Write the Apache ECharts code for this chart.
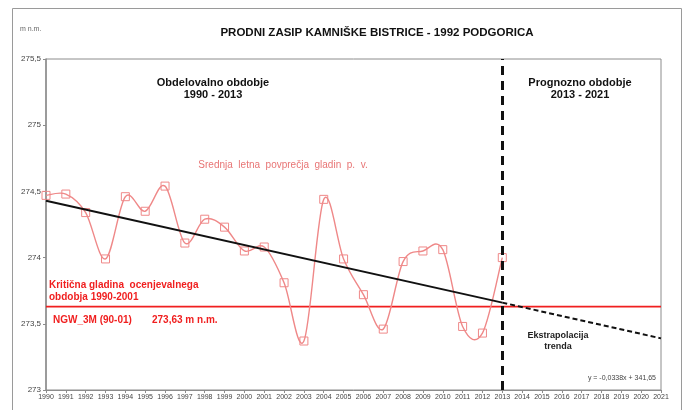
<!DOCTYPE html>
<html>
<head>
<meta charset="utf-8">
<script src="https://cdn.jsdelivr.net/npm/echarts@6/dist/echarts.min.js"></script>
<style>
html,body{margin:0;padding:0;background:#fff;}
#c{width:687px;height:410px;}
</style>
</head>
<body>
<div id="c"></div>
<script>
// ---- data ----
const years = [1990,1991,1992,1993,1994,1995,1996,1997,1998,1999,2000,2001,2002,2003,2004,2005,2006,2007,2008,2009,2010,2011,2012,2013];
const levels = [274.47,274.48,274.34,273.99,274.46,274.35,274.54,274.11,274.29,274.23,274.05,274.08,273.81,273.37,274.44,273.99,273.72,273.46,273.97,274.05,274.06,273.48,273.43,274.00];
const trendObserved = [[1990,274.43],[2013,273.66]];
const trendForecast = [[2013,273.66],[2021,273.39]];
const criticalLevel = 273.63;
const criticalSpan = [1990, 2021];
const dividerYear = 2013;
const yTicks = [273, 273.5, 274, 274.5, 275, 275.5];
const xRange = [1990, 2021];

const FONT = '"Liberation Sans", Arial, sans-serif';
const SALMON = '#ef8888';
const RED = '#f01f1f';

const chart = echarts.init(document.getElementById('c'), null, {renderer:'canvas'});
const obsData = years.map((y,i)=>[y, levels[i]]);
const critData = criticalSpan.map(x=>[x, criticalLevel]);

// Excel-style smoothed curve through the data points, positioned via the chart's own axes
function renderSmooth(params, api){
  if (params.dataIndex !== 0) return null;
  const pts = obsData.map(d => api.coord(d));
  const n = pts.length;
  let d = 'M' + pts[0][0] + ' ' + pts[0][1];
  for (let i = 0; i < n - 1; i++){
    const p0 = pts[Math.max(i-1,0)], p1 = pts[i], p2 = pts[i+1], p3 = pts[Math.min(i+2,n-1)];
    const c1x = p1[0] + (p2[0]-p0[0])/6, c1y = p1[1] + (p2[1]-p0[1])/6;
    const c2x = p2[0] - (p3[0]-p1[0])/6, c2y = p2[1] - (p3[1]-p1[1])/6;
    d += ' C' + c1x + ' ' + c1y + ' ' + c2x + ' ' + c2y + ' ' + p2[0] + ' ' + p2[1];
  }
  return {
    type:'path',
    shape:{pathData:d},
    style:{fill:'none', stroke:SALMON, lineWidth:1.4}
  };
}

chart.setOption({
  backgroundColor:'#fff',
  animation:false,
  grid:{left:46, right:26, top:59, bottom:20, show:true, borderColor:'#8c8c8c', borderWidth:1, backgroundColor:'transparent'},
  xAxis:{
    type:'value', min:xRange[0], max:xRange[1], interval:1,
    axisLine:{lineStyle:{color:'#8c8c8c', width:1}},
    axisTick:{show:true, length:3, lineStyle:{color:'#8c8c8c'}},
    axisLabel:{fontFamily:FONT, fontSize:7, color:'#444', margin:4, formatter:v=>String(v)},
    splitLine:{show:false}
  },
  yAxis:{
    type:'value', min:yTicks[0], max:yTicks[yTicks.length-1], interval:0.5,
    axisLine:{show:true, lineStyle:{color:'#8c8c8c', width:1.5}},
    axisTick:{show:true, length:3, lineStyle:{color:'#8c8c8c'}},
    axisLabel:{fontFamily:FONT, fontSize:8, color:'#444', margin:5, formatter:v=>String(v).replace('.',',')},
    splitLine:{show:false}
  },
  series:[
    {
      type:'line', data:critData, symbol:'none', silent:true,
      lineStyle:{color:RED, width:1.6}, z:2
    },
    {
      type:'custom', data:obsData, renderItem:renderSmooth, silent:true, clip:true, z:3
    },
    {
      type:'line', data:obsData,
      symbol:'rect', symbolSize:8,
      lineStyle:{width:0, opacity:0},
      itemStyle:{color:'rgba(255,255,255,0)', borderColor:SALMON, borderWidth:1},
      z:3
    },
    {
      type:'line', data:trendObserved, symbol:'none',
      lineStyle:{color:'#111', width:2}, z:4
    },
    {
      type:'line', data:trendForecast, symbol:'none',
      lineStyle:{color:'#111', width:2, type:[5,3]}, z:4,
      markLine:{
        silent:true, symbol:'none', label:{show:false},
        lineStyle:{color:'#111', width:3, type:[9,6]},
        data:[{xAxis:dividerYear}]
      }
    }
  ],
  graphic:[
    {type:'rect', shape:{x:12.5, y:8.5, width:669, height:410}, style:{fill:'none', stroke:'#9a9a9a', lineWidth:1}, silent:true, z:-1},
    {type:'text', left:20, top:26, style:{text:'m n.m.', fontFamily:FONT, fontSize:7, fill:'#666'}},
    {type:'text', x:377, y:33, style:{text:'PRODNI ZASIP KAMNIŠKE BISTRICE - 1992 PODGORICA', fontFamily:FONT, fontSize:11.5, fontWeight:'bold', fill:'#111', align:'center', verticalAlign:'middle'}},
    {type:'text', x:213, y:89, style:{text:'Obdelovalno obdobje\n1990 - 2013', fontFamily:FONT, fontSize:11, fontWeight:'bold', fill:'#111', align:'center', verticalAlign:'middle', lineHeight:12}},
    {type:'text', x:580, y:89, style:{text:'Prognozno obdobje\n2013 - 2021', fontFamily:FONT, fontSize:11, fontWeight:'bold', fill:'#111', align:'center', verticalAlign:'middle', lineHeight:12}},
    {type:'text', x:283, y:165, style:{text:'Srednja  letna  povprečja  gladin  p.  v.', fontFamily:FONT, fontSize:10, fill:'#e87575', align:'center', verticalAlign:'middle'}},
    {type:'text', x:49, y:291, style:{text:'Kritična gladina  ocenjevalnega\nobdobja 1990-2001', fontFamily:FONT, fontSize:10, fontWeight:'bold', fill:RED, align:'left', verticalAlign:'middle', lineHeight:12}},
    {type:'text', x:53, y:320, style:{text:'NGW_3M (90-01)', fontFamily:FONT, fontSize:10, fontWeight:'bold', fill:RED, align:'left', verticalAlign:'middle'}},
    {type:'text', x:152, y:320, style:{text:'273,63 m n.m.', fontFamily:FONT, fontSize:10, fontWeight:'bold', fill:RED, align:'left', verticalAlign:'middle'}},
    {type:'text', x:558, y:341, style:{text:'Ekstrapolacija\ntrenda', fontFamily:FONT, fontSize:9, fontWeight:'bold', fill:'#222', align:'center', verticalAlign:'middle', lineHeight:11}},
    {type:'text', x:656, y:378, style:{text:'y = -0,0338x + 341,65', fontFamily:FONT, fontSize:7, fill:'#444', align:'right', verticalAlign:'middle'}}
  ]
});
</script>
</body>
</html>
